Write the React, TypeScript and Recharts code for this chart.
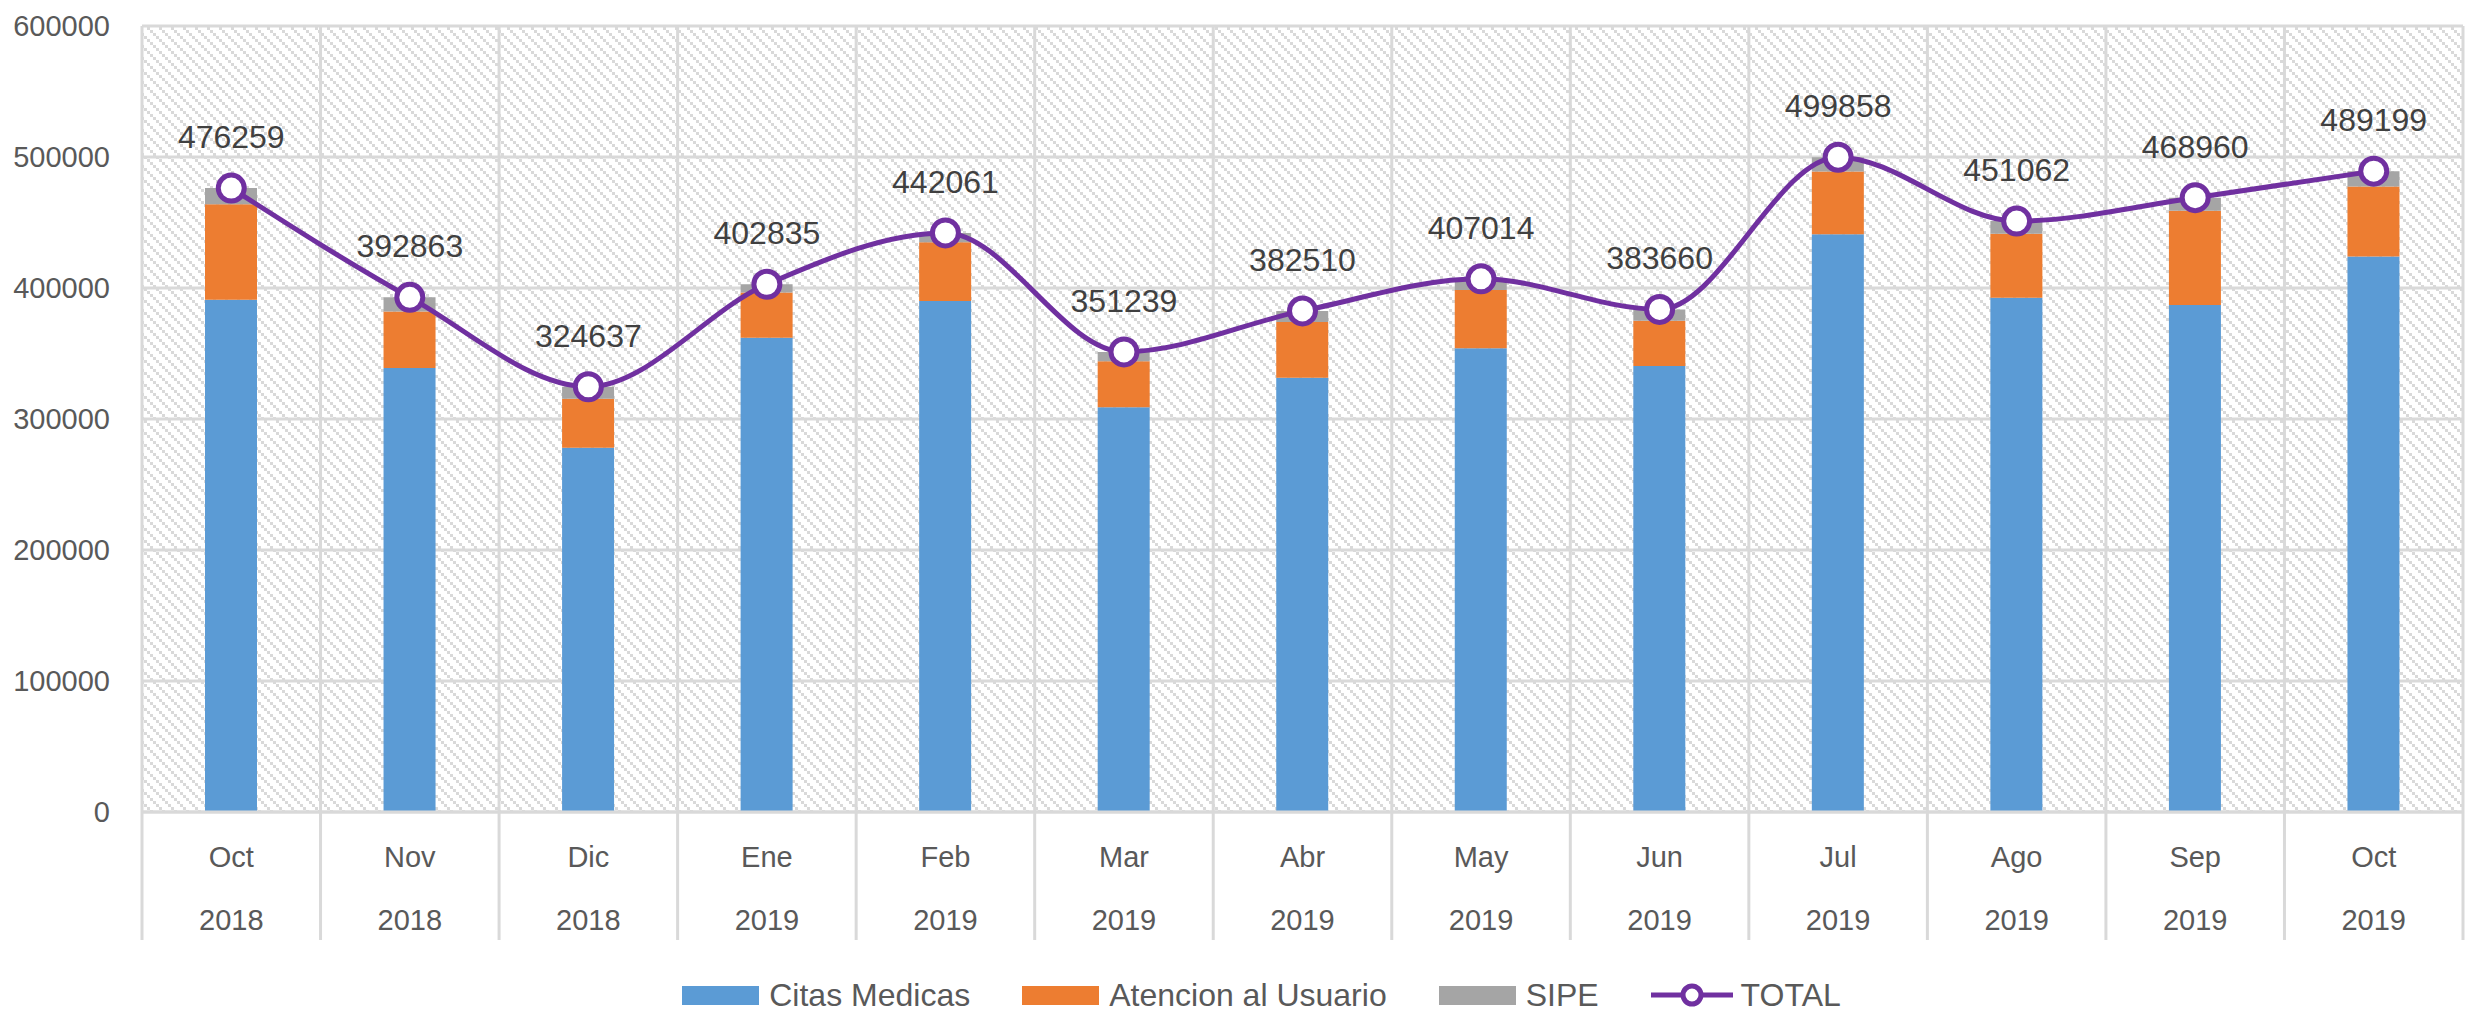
import React from "react"
import {
  Bar,
  CartesianGrid,
  ComposedChart,
  LabelList,
  Legend,
  Line,
  XAxis,
  YAxis,
} from "recharts"

const months = ["Oct", "Nov", "Dic", "Ene", "Feb", "Mar", "Abr", "May", "Jun", "Jul", "Ago", "Sep", "Oct"]
const years = ["2018", "2018", "2018", "2019", "2019", "2019", "2019", "2019", "2019", "2019", "2019", "2019", "2019"]
const citasMedicas = [391000, 339000, 278000, 362000, 390000, 309000, 331500, 354000, 340500, 441000, 392500, 387000, 424000]
const atencionUsuario = [73000, 43000, 37500, 34500, 45000, 35000, 42500, 44500, 34500, 48000, 49000, 72000, 53500]
const sipe = [12259, 10863, 9137, 6335, 7061, 7239, 8510, 8514, 8660, 10858, 9562, 9960, 11699]
const total = [476259, 392863, 324637, 402835, 442061, 351239, 382510, 407014, 383660, 499858, 451062, 468960, 489199]
const yTicks = [0, 100000, 200000, 300000, 400000, 500000, 600000]
const seriesOrder = ["Citas Medicas", "Atencion al Usuario", "SIPE", "TOTAL"]

const W = 2466
const H = 1010
const Y_AXIS_W = 142
const RIGHT = 3
const BAND = (W - Y_AXIS_W - RIGHT) / months.length
const FONT = "'Liberation Sans', Arial, sans-serif"
const GRID = "#D9D9D9"
const TEXT = "#595959"

const data = months.map((m, i) => ({
  key: `${m}-${years[i]}-${i}`,
  month: m,
  year: years[i],
  citas: citasMedicas[i],
  atencion: atencionUsuario[i],
  sipe: sipe[i],
  total: total[i],
}))

function CategoryTick(props: any) {
  const { x, y, index } = props
  const d = data[index]
  const half = BAND / 2
  const last = index === data.length - 1
  return (
    <g>
      <line x1={x - half} x2={x - half} y1={y} y2={y + 128} stroke={GRID} strokeWidth={3} />
      {last && (
        <line x1={x + half} x2={x + half} y1={y} y2={y + 128} stroke={GRID} strokeWidth={3} />
      )}
      <text x={x} y={y + 45} textAnchor="middle" dominantBaseline="central" fill={TEXT} fontSize={29} fontFamily={FONT}>
        {d.month}
      </text>
      <text x={x} y={y + 108} textAnchor="middle" dominantBaseline="central" fill={TEXT} fontSize={29} fontFamily={FONT}>
        {d.year}
      </text>
    </g>
  )
}

function LegendContent(props: any) {
  const payload = [...(props.payload || [])].sort(
    (a: any, b: any) => seriesOrder.indexOf(a.value) - seriesOrder.indexOf(b.value)
  )
  return (
    <div
      style={{
        display: "flex",
        justifyContent: "center",
        alignItems: "center",
        height: 30,
        paddingLeft: 60,
        fontFamily: FONT,
        fontSize: 32,
        color: TEXT,
        whiteSpace: "nowrap",
      }}
    >
      {payload.map((entry: any, i: number) => (
        <div
          key={i}
          style={{ display: "flex", alignItems: "center", marginRight: i < payload.length - 1 ? 52 : 0 }}
        >
          {entry.type === "line" ? (
            <svg width={82} height={28} style={{ marginRight: 8 }}>
              <line x1={0} x2={82} y1={14} y2={14} stroke={entry.color} strokeWidth={5} />
              <circle cx={41} cy={14} r={9} fill="#fff" stroke={entry.color} strokeWidth={5} />
            </svg>
          ) : (
            <div style={{ width: 77, height: 19, background: entry.color, marginRight: 10 }} />
          )}
          <span>{entry.value}</span>
        </div>
      ))}
    </div>
  )
}

export default function App() {
  return (
    <div style={{ position: "absolute", left: 0, top: 0, width: W, height: H, background: "#fff" }}>
      <ComposedChart
        width={W}
        height={H}
        data={data}
        margin={{ top: 26, right: RIGHT, left: 0, bottom: 0 }}
      >
        <defs>
          <pattern id="hatch" width={12} height={12} patternUnits="userSpaceOnUse">
            <rect x={0} y={0} width={12} height={12} fill="#fff" />
            <rect x={0} y={0} width={3} height={3} fill={GRID} />
            <rect x={3} y={3} width={3} height={3} fill={GRID} />
            <rect x={6} y={6} width={3} height={3} fill={GRID} />
            <rect x={9} y={9} width={3} height={3} fill={GRID} />
          </pattern>
        </defs>
        <CartesianGrid
          fill="url(#hatch)"
          fillOpacity={1}
          stroke={GRID}
          strokeWidth={3}
          verticalCoordinatesGenerator={({ offset }: any) =>
            Array.from({ length: months.length + 1 }, (_, i) => offset.left + (i * offset.width) / months.length)
          }
        />
        <XAxis
          dataKey="key"
          height={168}
          tickSize={0}
          tickMargin={0}
          tickLine={false}
          axisLine={{ stroke: GRID, strokeWidth: 3 }}
          interval={0}
          tick={<CategoryTick />}
        />
        <YAxis
          width={Y_AXIS_W}
          domain={[0, 600000]}
          ticks={yTicks}
          axisLine={false}
          tickLine={false}
          tickSize={0}
          tickMargin={32}
          tick={{ fill: TEXT, fontSize: 29, fontFamily: FONT }}
        />
        <Legend verticalAlign="bottom" height={30} content={<LegendContent />} />
        <Bar dataKey="citas" name="Citas Medicas" stackId="a" fill="#5B9BD5" barSize={52} isAnimationActive={false} />
        <Bar dataKey="atencion" name="Atencion al Usuario" stackId="a" fill="#ED7D31" barSize={52} isAnimationActive={false} />
        <Bar dataKey="sipe" name="SIPE" stackId="a" fill="#A5A5A5" barSize={52} isAnimationActive={false} />
        <Line
          type="monotone"
          dataKey="total"
          name="TOTAL"
          stroke="#7030A0"
          strokeWidth={5}
          dot={{ r: 13, fill: "#fff", stroke: "#7030A0", strokeWidth: 5 }}
          activeDot={false}
          isAnimationActive={false}
        >
          <LabelList dataKey="total" position="top" offset={40} fill="#404040" fontSize={32} fontFamily={FONT} />
        </Line>
      </ComposedChart>
    </div>
  )
}
